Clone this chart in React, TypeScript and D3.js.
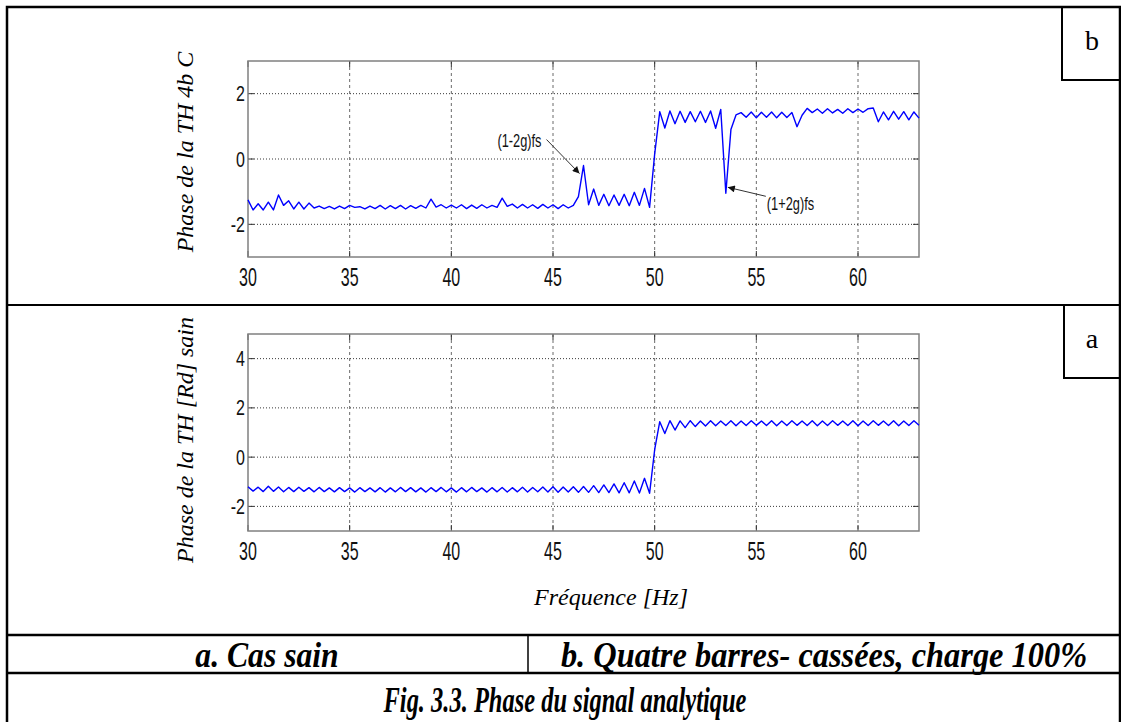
import React, { useRef, useEffect } from "react";
import * as d3 from "d3";

// spectrum sampled from 30 Hz, one point every 0.25 Hz
const freqStart = 30;
const freqStep = 0.25;

// b. four broken bars, 100% load
const phaseBroken = [
  -1.25, -1.56, -1.37, -1.56, -1.32, -1.56, -1.10, -1.42, -1.28, -1.53,
  -1.32, -1.53, -1.35, -1.50, -1.44, -1.52, -1.45, -1.53, -1.44, -1.52,
  -1.42, -1.48, -1.46, -1.53, -1.44, -1.52, -1.42, -1.53, -1.43, -1.52,
  -1.42, -1.53, -1.43, -1.51, -1.42, -1.50, -1.23, -1.47, -1.40, -1.50,
  -1.41, -1.50, -1.40, -1.52, -1.41, -1.51, -1.40, -1.50, -1.42, -1.48,
  -1.20, -1.45, -1.38, -1.50, -1.39, -1.50, -1.40, -1.51, -1.39, -1.50,
  -1.40, -1.52, -1.40, -1.50, -1.42, -1.15, -0.20, -1.40, -0.92, -1.42,
  -1.08, -1.43, -1.10, -1.42, -1.08, -1.43, -1.02, -1.42, -0.90, -1.48,
  0.15, 1.45, 0.95, 1.47, 1.08, 1.46, 1.12, 1.45, 1.14, 1.46,
  1.12, 1.47, 0.94, 1.52, -1.05, 0.90, 1.35, 1.42, 1.28, 1.44,
  1.26, 1.43, 1.28, 1.44, 1.26, 1.43, 1.27, 1.42, 0.99, 1.34,
  1.55, 1.42, 1.53, 1.40, 1.54, 1.41, 1.52, 1.40, 1.54, 1.42,
  1.53, 1.43, 1.54, 1.56, 1.14, 1.44, 1.20, 1.46, 1.22, 1.45,
  1.20, 1.44, 1.25,
];

// a. healthy machine
const phaseHealthy = [
  -1.20, -1.38, -1.22, -1.40, -1.18, -1.39, -1.21, -1.41, -1.23, -1.40,
  -1.22, -1.39, -1.24, -1.41, -1.23, -1.40, -1.25, -1.41, -1.24, -1.40,
  -1.25, -1.42, -1.24, -1.40, -1.25, -1.41, -1.24, -1.42, -1.25, -1.41,
  -1.23, -1.40, -1.24, -1.41, -1.25, -1.42, -1.24, -1.40, -1.23, -1.41,
  -1.25, -1.42, -1.24, -1.41, -1.23, -1.40, -1.25, -1.42, -1.24, -1.41,
  -1.23, -1.42, -1.24, -1.41, -1.22, -1.42, -1.23, -1.41, -1.21, -1.42,
  -1.20, -1.43, -1.21, -1.42, -1.20, -1.43, -1.19, -1.43, -1.16, -1.44,
  -1.13, -1.44, -1.09, -1.45, -1.04, -1.45, -0.97, -1.46, -0.86, -1.47,
  0.30, 1.44, 0.96, 1.48, 1.10, 1.47, 1.20, 1.48, 1.24, 1.47,
  1.26, 1.48, 1.27, 1.47, 1.28, 1.48, 1.27, 1.47, 1.28, 1.48,
  1.29, 1.47, 1.28, 1.48, 1.27, 1.47, 1.28, 1.48, 1.29, 1.47,
  1.28, 1.48, 1.27, 1.47, 1.28, 1.48, 1.29, 1.47, 1.28, 1.48,
  1.27, 1.47, 1.28, 1.48, 1.29, 1.47, 1.28, 1.48, 1.27, 1.47,
  1.28, 1.48, 1.29,
];

const xTicks = [30, 35, 40, 45, 50, 55, 60];
const yTicksBroken = [-2, 0, 2];
const yTicksHealthy = [-2, 0, 2, 4];

const annotations = [
  { label: "(1-2g)fs", freq: 46.5, value: -0.2 },
  { label: "(1+2g)fs", freq: 53.5, value: -1.05 },
];

const W = 1121, H = 722;
const tickFont = "'Liberation Sans', Arial, sans-serif";
const serif = "'Liberation Serif', 'Times New Roman', serif";

function drawPanel(g, values, yDomain, yTicks, top, bottom, ylabel, labelY, notes) {
  const x = d3.scaleLinear().domain([30, 63]).range([248, 919]);
  const y = d3.scaleLinear().domain(yDomain).range([bottom, top]);

  g.append("rect").attr("x", 248).attr("y", top).attr("width", 671).attr("height", bottom - top).attr("fill", "#fff");

  // grid
  g.selectAll(".vgrid").data(xTicks.slice(1)).join("line")
    .attr("x1", d => x(d)).attr("x2", d => x(d)).attr("y1", top).attr("y2", bottom)
    .attr("stroke", "#444").attr("stroke-width", 0.8).attr("stroke-dasharray", "3,3");
  g.selectAll(".hgrid").data(yTicks).join("line")
    .attr("x1", 248).attr("x2", 919).attr("y1", d => y(d)).attr("y2", d => y(d))
    .attr("stroke", "#222").attr("stroke-width", 0.9).attr("stroke-dasharray", "1,2");

  // ticks
  const tk = 6;
  yTicks.forEach(v => {
    g.append("line").attr("x1", 248).attr("x2", 248 + tk).attr("y1", y(v)).attr("y2", y(v)).attr("stroke", "#333");
    g.append("line").attr("x1", 919 - tk).attr("x2", 919).attr("y1", y(v)).attr("y2", y(v)).attr("stroke", "#333");
  });
  xTicks.forEach(v => {
    g.append("line").attr("x1", x(v)).attr("x2", x(v)).attr("y1", bottom).attr("y2", bottom - tk).attr("stroke", "#333");
    g.append("line").attr("x1", x(v)).attr("x2", x(v)).attr("y1", top).attr("y2", top + tk).attr("stroke", "#333");
  });

  g.append("rect").attr("x", 248).attr("y", top).attr("width", 671).attr("height", bottom - top)
    .attr("fill", "none").attr("stroke", "#808080").attr("stroke-width", 1.5);

  // tick labels (narrow, tall MATLAB look)
  xTicks.forEach(v => {
    g.append("text").attr("transform", `translate(${x(v)},${bottom + 28.5}) scale(0.8,1.25)`)
      .attr("text-anchor", "middle").attr("font-family", tickFont).attr("font-size", 20).attr("fill", "#111")
      .text(v);
  });
  yTicks.forEach(v => {
    g.append("text").attr("transform", `translate(245,${y(v) + 7.5}) scale(0.8,1.1)`)
      .attr("text-anchor", "end").attr("font-family", tickFont).attr("font-size", 20).attr("fill", "#111")
      .text(v);
  });

  const line = d3.line()
    .x((d, i) => x(freqStart + i * freqStep))
    .y(d => y(d));
  g.append("path").datum(values).attr("d", line)
    .attr("fill", "none").attr("stroke", "#0000ff").attr("stroke-width", 1.4).attr("stroke-linejoin", "round");

  g.append("text").attr("transform", `translate(193,${labelY}) rotate(-90)`)
    .attr("text-anchor", "middle").attr("font-family", serif).attr("font-style", "italic")
    .attr("font-size", 24).text(ylabel);

  notes.forEach(n => {
    const px = x(n.freq), py = y(n.value);
    g.append("line").attr("x1", px + n.from[0]).attr("y1", py + n.from[1])
      .attr("x2", px + n.to[0]).attr("y2", py + n.to[1])
      .attr("stroke", "#333").attr("stroke-width", 1).attr("marker-end", "url(#arrow)");
    g.append("text").attr("transform", `translate(${px + n.text[0]},${py + n.text[1]}) scale(0.8,1.2)`)
      .attr("text-anchor", n.anchor).attr("font-family", tickFont).attr("font-size", 16).attr("fill", "#111")
      .text(n.label);
  });
}

export default function App() {
  const svgRef = useRef(null);

  useEffect(() => {
    const svg = d3.select(svgRef.current);
    svg.selectAll("*").remove();

    svg.append("defs").append("marker").attr("id", "arrow")
      .attr("viewBox", "0 0 10 10").attr("refX", 10).attr("refY", 5)
      .attr("markerWidth", 9).attr("markerHeight", 7).attr("markerUnits", "userSpaceOnUse")
      .attr("orient", "auto")
      .append("path").attr("d", "M0,0L10,5L0,10z").attr("fill", "#111");

    svg.append("rect").attr("width", W).attr("height", H).attr("fill", "#fff");

    const notesB = [
      { ...annotations[0], from: [-37, -26], to: [-4, 8], text: [-42, -19], anchor: "end" },
      { ...annotations[1], from: [40, 3], to: [2, -6], text: [41, 17], anchor: "start" },
    ];
    drawPanel(svg.append("g"), phaseBroken, [-3, 3], yTicksBroken, 61, 257, "Phase de la TH 4b C", 152, notesB);
    drawPanel(svg.append("g"), phaseHealthy, [-3, 5], yTicksHealthy, 334, 531, "Phase de la TH [Rd] sain", 440, []);

    svg.append("text").attr("x", 611).attr("y", 605).attr("text-anchor", "middle")
      .attr("font-family", serif).attr("font-style", "italic").attr("font-size", 24)
      .text("Fréquence [Hz]");

    // table frame
    const frame = svg.append("g").attr("stroke", "#000").attr("fill", "none");
    frame.append("path").attr("d", `M7,722V7H1120V722`).attr("stroke-width", 2.5);
    frame.append("line").attr("x1", 7).attr("x2", 1120).attr("y1", 305).attr("y2", 305).attr("stroke-width", 2);
    frame.append("line").attr("x1", 7).attr("x2", 1120).attr("y1", 635).attr("y2", 635).attr("stroke-width", 2.5);
    frame.append("line").attr("x1", 7).attr("x2", 1120).attr("y1", 673).attr("y2", 673).attr("stroke-width", 2.5);
    frame.append("line").attr("x1", 528).attr("x2", 528).attr("y1", 635).attr("y2", 673).attr("stroke-width", 1.5);
    frame.append("path").attr("d", "M1062,7V80H1120").attr("stroke-width", 2);
    frame.append("path").attr("d", "M1064,305V378H1120").attr("stroke-width", 2);

    svg.append("text").attr("x", 1092).attr("y", 50).attr("text-anchor", "middle")
      .attr("font-family", serif).attr("font-size", 28).text("b");
    svg.append("text").attr("x", 1092).attr("y", 348).attr("text-anchor", "middle")
      .attr("font-family", serif).attr("font-size", 28).text("a");

    const cap = (t, xx, yy, sx) => svg.append("text")
      .attr("transform", `translate(${xx},${yy}) scale(${sx},1)`).attr("text-anchor", "middle")
      .attr("font-family", serif).attr("font-style", "italic").attr("font-weight", "bold")
      .attr("font-size", 36).text(t);
    cap("a. Cas sain", 267, 667, 0.88);
    cap("b. Quatre barres- cassées, charge 100%", 824, 667, 0.9);
    cap("Fig. 3.3. Phase du signal analytique", 565, 712, 0.68);
  }, []);

  return (
    <svg ref={svgRef} width={W} height={H}
      style={{ position: "absolute", left: 0, top: 0, display: "block" }} />
  );
}
